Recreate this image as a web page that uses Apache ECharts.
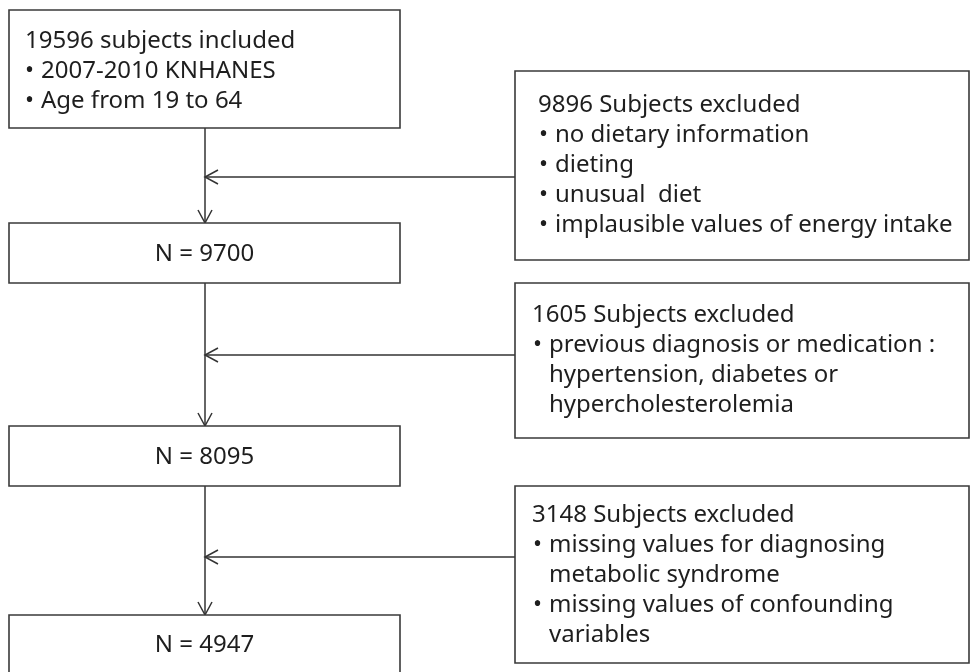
<!DOCTYPE html>
<html>
<head>
<meta charset="utf-8">
<script src="https://cdn.jsdelivr.net/npm/echarts@6/dist/echarts.min.js"></script>
<style>
  html, body { margin: 0; padding: 0; background: #fff; }
  #main { width: 970px; height: 672px; }
</style>
</head>
<body>
<div id="main"></div>
<script>
// 数据
const includedTotal = 19596;
const inclusionCriteria = ['2007-2010 KNHANES', 'Age from 19 to 64'];
const remainingN = [9700, 8095, 4947];
const excludedCounts = [9896, 1605, 3148];
// each reason is a list of wrapped lines
const exclusionReasons = [
    [['no dietary information'], ['dieting'], ['unusual  diet'], ['implausible values of energy intake']],
    [['previous diagnosis or medication :', 'hypertension, diabetes or', 'hypercholesterolemia']],
    [['missing values for diagnosing', 'metabolic syndrome'], ['missing values of confounding', 'variables']]
];

// 布局 (px in a 970x672 space)
const mainBoxes = [[9, 10, 400, 128], [9, 223, 400, 283], [9, 426, 400, 486], [9, 615, 400, 700]];
const sideBoxes = [[515, 71, 969, 260], [515, 283, 969, 438], [515, 486, 969, 663]];
const sideTextX = [538, 532, 532];
const sideTextY = [105, 315, 515];
const arrowY = [177, 355, 557];
const stemX = 205;
const lineGap = 30;
const FONT = '"Noto Sans", "Open Sans", sans-serif';
const TXT = '#1e1e1e';

var myChart = echarts.init(document.getElementById('main'));

function textEl(api, x, y, str, align) {
    let p = api.coord([x, y]);
    return {
        type: 'text',
        style: {
            x: p[0], y: p[1], text: str,
            fill: TXT, font: '24px ' + FONT,
            textAlign: align || 'left', textVerticalAlign: 'middle'
        }
    };
}

function rectEl(api, b) {
    let p0 = api.coord([b[0], b[1]]);
    let p1 = api.coord([b[2], b[3]]);
    return {
        type: 'rect',
        shape: { x: p0[0], y: p0[1], width: p1[0] - p0[0], height: p1[1] - p0[1] },
        style: { fill: '#fff', stroke: '#3a3a3a', lineWidth: 1.6 }
    };
}

function mainBoxItem(params, api) {
    let i = api.value(0);
    let b = mainBoxes[i];
    let children = [rectEl(api, b)];
    if (i === 0) {
        children.push(textEl(api, 25, 41, includedTotal + ' subjects included'));
        inclusionCriteria.forEach((c, k) => {
            children.push(textEl(api, 25, 71 + k * lineGap, '•'));
            children.push(textEl(api, 41, 71 + k * lineGap, c));
        });
    } else {
        // last box runs off the bottom of the picture
        let cy = i === 3 ? 645 : (b[1] + b[3]) / 2 + 1;
        children.push(textEl(api, (b[0] + b[2]) / 2, cy, 'N = ' + remainingN[i - 1], 'center'));
    }
    return { type: 'group', children };
}

function sideBoxItem(params, api) {
    let i = api.value(0);
    let x = sideTextX[i];
    let y = sideTextY[i];
    let children = [rectEl(api, sideBoxes[i])];
    children.push(textEl(api, x, y, excludedCounts[i] + ' Subjects excluded'));
    let row = 1;
    exclusionReasons[i].forEach(lines => {
        lines.forEach((ln, k) => {
            if (k === 0) children.push(textEl(api, x + 1, y + row * lineGap, '•'));
            children.push(textEl(api, x + 17, y + row * lineGap, ln));
            row++;
        });
    });
    return { type: 'group', children };
}

function connectorItem(params, api) {
    let i = api.value(0);
    let top = mainBoxes[i][3];
    let bottom = mainBoxes[i + 1][1];
    let ay = arrowY[i];
    let right = sideBoxes[i][0];
    const ls = { stroke: '#333', lineWidth: 1.5, fill: null };
    let c = (x, y) => api.coord([x, y]);
    return {
        type: 'group',
        children: [
            { type: 'line', shape: { x1: c(stemX, top)[0], y1: c(stemX, top)[1], x2: c(stemX, bottom)[0], y2: c(stemX, bottom)[1] }, style: ls },
            { type: 'polyline', shape: { points: [c(stemX - 7, bottom - 13), c(stemX, bottom), c(stemX + 7, bottom - 13)] }, style: ls },
            { type: 'line', shape: { x1: c(stemX, ay)[0], y1: c(stemX, ay)[1], x2: c(right, ay)[0], y2: c(right, ay)[1] }, style: ls },
            { type: 'polyline', shape: { points: [c(stemX + 13, ay - 7), c(stemX, ay), c(stemX + 13, ay + 7)] }, style: ls }
        ]
    };
}

option = {
    backgroundColor: '#fff',
    animation: false,
    grid: { left: 0, right: 0, top: 0, bottom: 0 },
    xAxis: { type: 'value', min: 0, max: 970, show: false },
    yAxis: { type: 'value', min: 0, max: 672, inverse: true, show: false },
    series: [
        { type: 'custom', renderItem: connectorItem, data: [[0], [1], [2]], clip: false, silent: true },
        { type: 'custom', renderItem: mainBoxItem, data: [[0], [1], [2], [3]], clip: true, silent: true },
        { type: 'custom', renderItem: sideBoxItem, data: [[0], [1], [2]], clip: true, silent: true }
    ]
};
myChart.setOption(option);
</script>
</body>
</html>
